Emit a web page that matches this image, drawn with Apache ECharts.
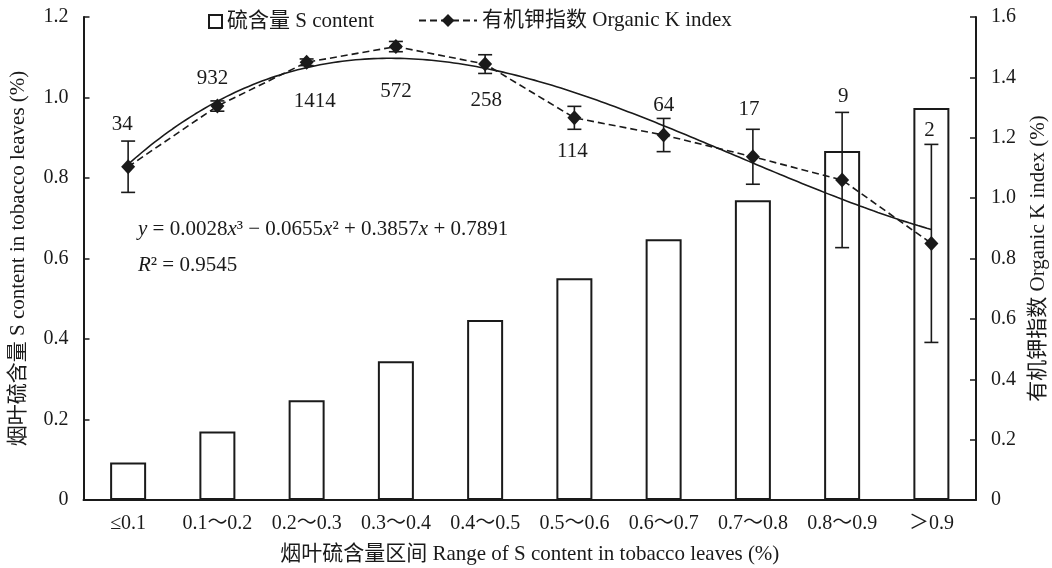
<!DOCTYPE html>
<html>
<head>
<meta charset="utf-8">
<script src="https://cdn.jsdelivr.net/npm/echarts@6/dist/echarts.min.js"></script>
<style>
  html, body { margin: 0; padding: 0; background: #fff; }
  #chart { width: 1052px; height: 568px; }
</style>
</head>
<body>
<div id="chart"></div>
<script>
// Sulfur content classes of tobacco leaves
const categories = ['≤0.1', '0.1～0.2', '0.2～0.3', '0.3～0.4', '0.4～0.5',
                    '0.5～0.6', '0.6～0.7', '0.7～0.8', '0.8～0.9', '＞0.9'];
// Mean S content in each class (%), left axis
const sContent = [0.093, 0.170, 0.248, 0.345, 0.447, 0.551, 0.648, 0.745, 0.867, 0.974];
// Organic K index (mean and standard error), right axis
const kIndex = [1.104, 1.305, 1.450, 1.502, 1.444, 1.266, 1.209, 1.137, 1.060, 0.850];
const kError = [0.085, 0.017, 0.011, 0.017, 0.031, 0.038, 0.055, 0.091, 0.224, 0.328];
// Number of samples in each class
const sampleCounts = [34, 932, 1414, 572, 258, 114, 64, 17, 9, 2];
// Cubic fit of organic K index against class number: a x^3 + b x^2 + c x + d
const fitCoef = [0.0028, -0.0655, 0.3857, 0.7891];
const fitR2 = '0.9545';
// Tick labels
const leftTicks = ['0', '0.2', '0.4', '0.6', '0.8', '1.0', '1.2'];
const rightTicks = ['0', '0.2', '0.4', '0.6', '0.8', '1.0', '1.2', '1.4', '1.6'];

const SERIF = "'Liberation Serif', 'Times New Roman', 'Noto Sans CJK SC', serif";
const INK = '#1a1a1a';

// Count label placement relative to each marker
const countOffsets = [[-6, -42], [-5, -28], [8, 39], [0, 45], [1, 36],
                      [-2, 34], [0, -30], [-4, -47], [1, -84], [-2, -113]];

function fitValue(x) {
  return fitCoef[0] * x * x * x + fitCoef[1] * x * x + fitCoef[2] * x + fitCoef[3];
}
const fitLine = [];
for (let i = 0; i <= 180; i++) {
  const x = 1 + i * 0.05;
  fitLine.push([x, fitValue(x)]);
}

const kData = kIndex.map((v, i) => ({
  value: v,
  label: { offset: countOffsets[i], formatter: String(sampleCounts[i]) }
}));

const errData = kIndex.map((v, i) => [i, v - kError[i], v + kError[i]]);

const fmtNum = (v) => (v === 0 ? '0' : v.toFixed(1));

const chart = echarts.init(document.getElementById('chart'), null, { renderer: 'canvas' });

const option = {
  backgroundColor: '#fff',
  animation: false,
  textStyle: { fontFamily: SERIF, color: INK },
  grid: { left: 83.5, right: 76, top: 17, bottom: 68, containLabel: false, outerBoundsMode: 'none' },
  legend: [
    {
      left: 203, top: 6,
      data: ['硫含量 S content'],
      itemWidth: 13, itemHeight: 13, itemGap: 6,
      icon: 'rect',
      textStyle: { fontFamily: SERIF, fontSize: 21, color: INK }
    },
    {
      left: 413, top: 5,
      data: ['有机钾指数 Organic K index'],
      itemWidth: 58, itemHeight: 16,
      textStyle: { fontFamily: SERIF, fontSize: 21, color: INK }
    }
  ],
  xAxis: [
    {
      type: 'category',
      data: categories,
      boundaryGap: true,
      axisLine: { lineStyle: { color: INK, width: 2 } },
      axisTick: { inside: true, length: 6, lineStyle: { color: INK, width: 1.5 } },
      axisLabel: { fontFamily: SERIF, fontSize: 20, color: INK, margin: 14, interval: 0, hideOverlap: false },
      name: '烟叶硫含量区间 Range of S content in tobacco leaves (%)',
      nameLocation: 'middle',
      nameGap: 44,
      nameTextStyle: { fontFamily: SERIF, fontSize: 21, color: INK }
    },
    { type: 'value', min: 0.5, max: 10.5, show: false }
  ],
  yAxis: [
    {
      type: 'value', min: 0, max: 1.2, interval: 0.2,
      splitLine: { show: false },
      axisLine: { show: true, lineStyle: { color: INK, width: 2 } },
      axisTick: { show: true, inside: true, length: 6, lineStyle: { color: INK, width: 1.5 } },
      axisLabel: {
        fontFamily: SERIF, fontSize: 20, color: INK, margin: 15,
        formatter: (v) => leftTicks[Math.round(v / 0.2)] || fmtNum(v)
      },
      name: '烟叶硫含量 S content in tobacco leaves (%)',
      nameLocation: 'middle',
      nameGap: 55,
      nameTextStyle: { fontFamily: SERIF, fontSize: 21, color: INK }
    },
    {
      type: 'value', min: 0, max: 1.6, interval: 0.2,
      position: 'right',
      splitLine: { show: false },
      axisLine: { show: true, lineStyle: { color: INK, width: 2 } },
      axisTick: { show: true, inside: true, length: 6, lineStyle: { color: INK, width: 1.5 } },
      axisLabel: {
        fontFamily: SERIF, fontSize: 20, color: INK, margin: 15,
        formatter: (v) => rightTicks[Math.round(v / 0.2)] || fmtNum(v)
      },
      name: '有机钾指数 Organic K index (%)',
      nameLocation: 'middle',
      nameGap: 52,
      nameRotate: 90,
      nameTextStyle: { fontFamily: SERIF, fontSize: 21, color: INK }
    }
  ],
  series: [
    {
      name: '硫含量 S content',
      type: 'bar',
      data: sContent,
      barWidth: 36,
      z: 1,
      itemStyle: { color: '#fff', borderColor: INK, borderWidth: 2 }
    },
    {
      name: 'fit',
      type: 'line',
      xAxisIndex: 1, yAxisIndex: 1,
      data: fitLine,
      showSymbol: false,
      silent: true,
      z: 3,
      lineStyle: { color: INK, width: 1.6, type: 'solid' }
    },
    {
      name: 'error',
      type: 'custom',
      xAxisIndex: 0, yAxisIndex: 1,
      data: errData,
      z: 4,
      silent: true,
      renderItem: function (params, api) {
        const x = api.value(0);
        const lo = api.coord([x, api.value(1)]);
        const hi = api.coord([x, api.value(2)]);
        const half = 7;
        const style = { stroke: INK, lineWidth: 1.6, fill: null };
        return {
          type: 'group',
          children: [
            { type: 'line', shape: { x1: lo[0], y1: lo[1], x2: hi[0], y2: hi[1] }, style: style },
            { type: 'line', shape: { x1: hi[0] - half, y1: hi[1], x2: hi[0] + half, y2: hi[1] }, style: style },
            { type: 'line', shape: { x1: lo[0] - half, y1: lo[1], x2: lo[0] + half, y2: lo[1] }, style: style }
          ]
        };
      }
    },
    {
      name: '有机钾指数 Organic K index',
      type: 'line',
      xAxisIndex: 0, yAxisIndex: 1,
      data: kData,
      z: 5,
      symbol: 'diamond',
      symbolSize: [14, 15],
      itemStyle: { color: INK },
      lineStyle: { color: INK, width: 1.6, type: [7, 4] },
      label: {
        show: true,
        position: 'inside',
        fontFamily: SERIF, fontSize: 21, color: INK
      }
    }
  ],
  graphic: [
    {
      type: 'text',
      left: 138, top: 211,
      style: {
        text: '{i|y} = 0.0028{i|x}³ − 0.0655{i|x}² + 0.3857{i|x} + 0.7891\n{i|R}² = ' + fitR2,
        font: "21px 'Liberation Serif'",
        fill: INK,
        lineHeight: 36,
        rich: {
          i: { fontStyle: 'italic', fontFamily: 'Liberation Serif', fontSize: 21, fill: INK, lineHeight: 36 }
        }
      }
    }
  ]
};

chart.setOption(option);
</script>
</body>
</html>
